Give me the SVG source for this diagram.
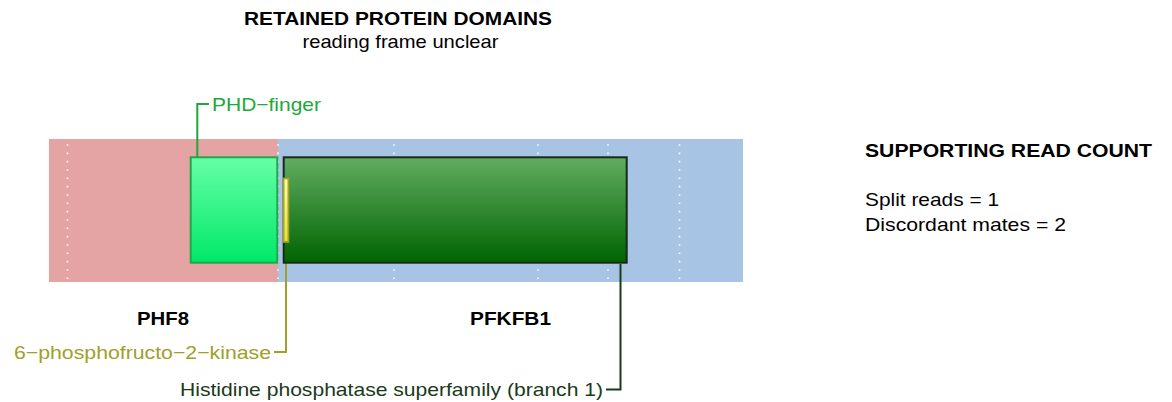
<svg xmlns="http://www.w3.org/2000/svg" width="1172" height="402" viewBox="0 0 1172 402">
<defs>
<linearGradient id="gPHD" x1="0" y1="0" x2="0" y2="1"><stop offset="0" stop-color="#66ffa6"/><stop offset="1" stop-color="#00e868"/></linearGradient>
<linearGradient id="gHis" x1="0" y1="0" x2="0" y2="1"><stop offset="0" stop-color="#62ac62"/><stop offset="1" stop-color="#006400"/></linearGradient>
<linearGradient id="gKin" x1="0" y1="0" x2="0" y2="1"><stop offset="0" stop-color="#ffffa8"/><stop offset="1" stop-color="#e4e040"/></linearGradient>
</defs>
<style>
text{font-family:"Liberation Sans",Arial,sans-serif;font-size:18.5px}
.b{font-weight:bold;fill:#000}
.n{fill:#000}
.dot{stroke:#fff;stroke-width:1.6;stroke-dasharray:1.6 6.73;fill:none}
.con{fill:none;stroke-width:2}
</style>
<g id="title">
<text class="b" x="244" y="25" textLength="308" lengthAdjust="spacingAndGlyphs">RETAINED PROTEIN DOMAINS</text>
<text class="n" x="302.5" y="48" textLength="196" lengthAdjust="spacingAndGlyphs">reading frame unclear</text>
</g>
<g id="background">
<rect x="49" y="139" width="229" height="143" fill="#e4a4a4"/>
<rect x="278" y="139" width="465" height="143" fill="#a7c4e4"/>
<line class="dot" x1="67.5" y1="144.2" x2="67.5" y2="280"/>
<line class="dot" x1="278" y1="144.2" x2="278" y2="280"/>
<line class="dot" x1="394" y1="144.2" x2="394" y2="280"/>
<line class="dot" x1="538" y1="144.2" x2="538" y2="280"/>
<line class="dot" x1="608" y1="144.2" x2="608" y2="280"/>
<line class="dot" x1="679.5" y1="144.2" x2="679.5" y2="280"/>
</g>
<g id="connectors">
<path class="con" stroke="#20a838" d="M197.3,157 V104 H209"/>
<path class="con" stroke="#a0a028" d="M286,243 V352 H274"/>
<path class="con" stroke="#1a3a1a" d="M620.5,264 V389.5 H606"/>
</g>
<g id="domain-phd">
<rect x="190.7" y="157.3" width="86.6" height="105.4" fill="url(#gPHD)" stroke="#1fa848" stroke-width="2"/>
<text x="212" y="111" fill="#20a838" textLength="109" lengthAdjust="spacingAndGlyphs">PHD−finger</text>
</g>
<g id="domain-histidine">
<rect x="283.7" y="157.3" width="343" height="105.4" fill="url(#gHis)" stroke="#1a2a1a" stroke-width="2"/>
<text x="180" y="396" fill="#1a3a1a" textLength="423" lengthAdjust="spacingAndGlyphs">Histidine phosphatase superfamily (branch 1)</text>
</g>
<g id="domain-kinase">
<rect x="283.6" y="178.5" width="4.8" height="63.4" fill="url(#gKin)" stroke="#a8a020" stroke-width="1.8"/>
<text x="14" y="358.5" fill="#a0a028" textLength="257" lengthAdjust="spacingAndGlyphs">6−phosphofructo−2−kinase</text>
</g>
<g id="gene-phf8">
<text class="b" x="137" y="325" textLength="52" lengthAdjust="spacingAndGlyphs">PHF8</text>
</g>
<g id="gene-pfkfb1">
<text class="b" x="470" y="325" textLength="81" lengthAdjust="spacingAndGlyphs">PFKFB1</text>
</g>
<g id="read-count">
<text class="b" x="865" y="157" textLength="287" lengthAdjust="spacingAndGlyphs">SUPPORTING READ COUNT</text>
<text class="n" x="865" y="206" textLength="134" lengthAdjust="spacingAndGlyphs">Split reads = 1</text>
<text class="n" x="865" y="231" textLength="201" lengthAdjust="spacingAndGlyphs">Discordant mates = 2</text>
</g>
</svg>
